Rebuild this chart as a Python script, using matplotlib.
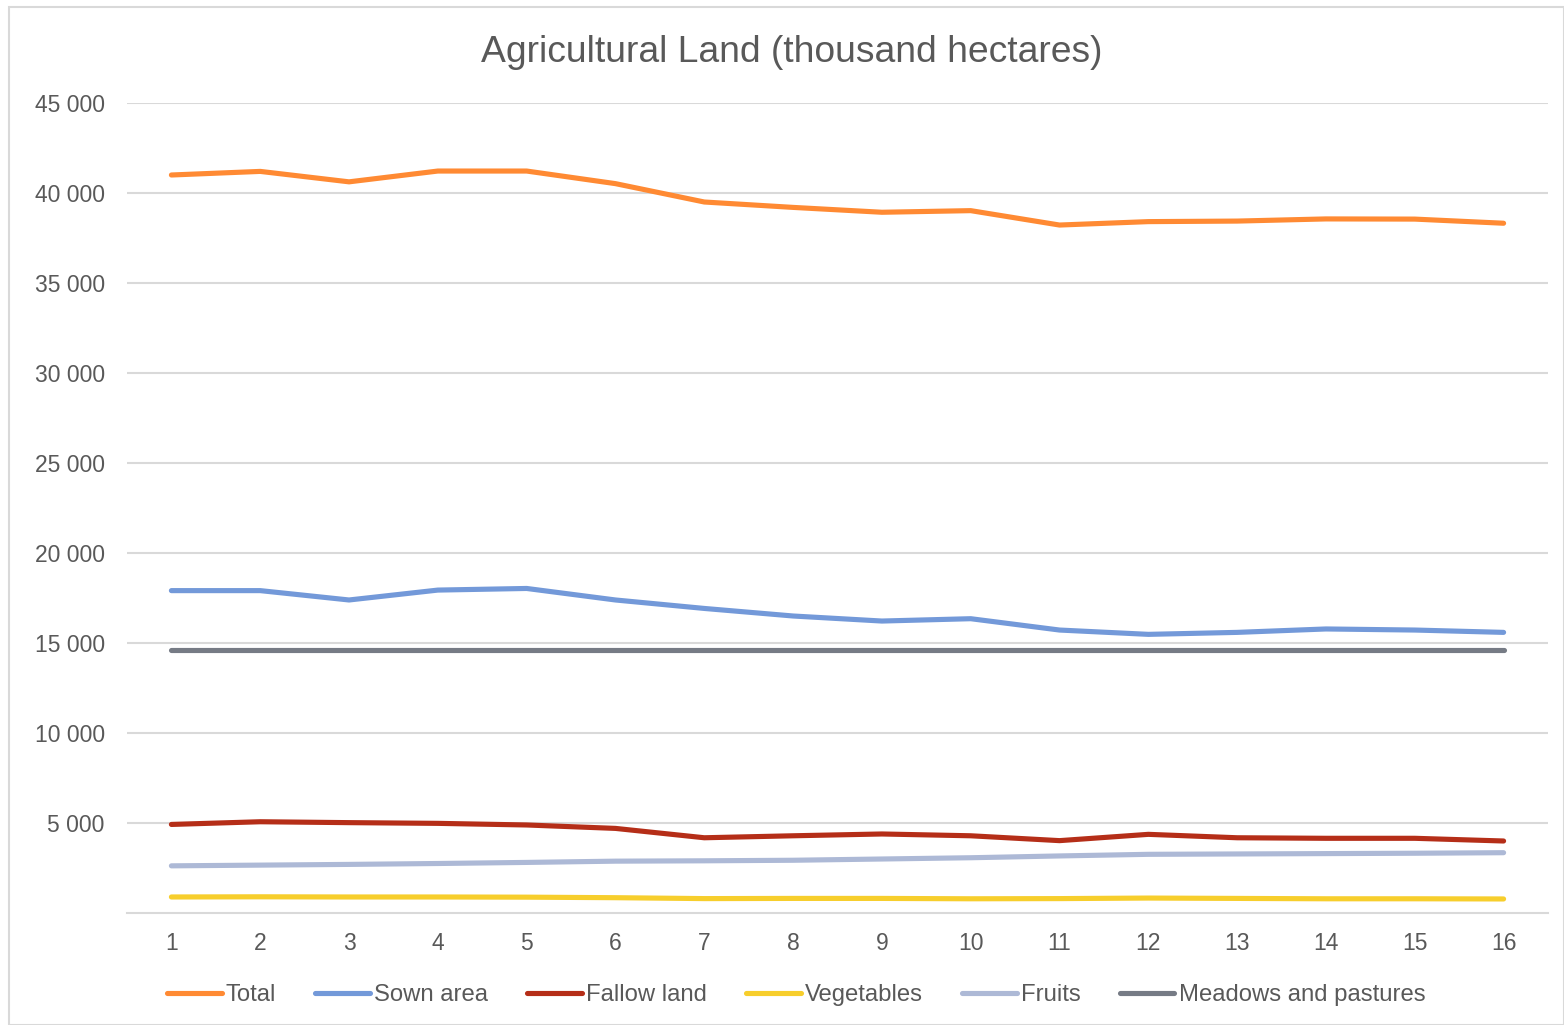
import matplotlib
matplotlib.use("Agg")
import matplotlib.pyplot as plt
from matplotlib.ticker import FuncFormatter
from matplotlib.patches import Rectangle

plt.rcParams['font.family'] = ['Liberation Sans', 'DejaVu Sans']

# agricultural land by year index, thousand hectares
years = list(range(1, 17))
total = [41000, 41200, 40620, 41220, 41220, 40520, 39500, 39200,
         38930, 39020, 38220, 38410, 38440, 38560, 38550, 38320]
sown_area = [17910, 17910, 17390, 17940, 18030, 17390, 16920, 16500,
             16220, 16350, 15720, 15480, 15590, 15780, 15720, 15590]
fallow_land = [4920, 5070, 5020, 4980, 4890, 4700, 4180, 4290,
               4390, 4290, 4020, 4370, 4180, 4150, 4150, 4000]
vegetables = [890, 900, 890, 890, 880, 850, 800, 810,
              810, 790, 800, 830, 810, 790, 790, 780]
fruits = [2620, 2660, 2700, 2750, 2810, 2880, 2900, 2930,
          3000, 3070, 3170, 3260, 3280, 3300, 3320, 3350]
meadows = [14600] * 16

series = [
    ("Total", total, "#FF8A33"),
    ("Sown area", sown_area, "#7399D9"),
    ("Fallow land", fallow_land, "#B52E18"),
    ("Vegetables", vegetables, "#F7CE2C"),
    ("Fruits", fruits, "#ADB9D6"),
    ("Meadows and pastures", meadows, "#767B85"),
]

W, H = 1564, 1025
fig = plt.figure(figsize=(W / 100, H / 100), dpi=100)
ax = fig.add_axes([127 / W, 1 - 913 / H, (1548 - 127) / W, (913 - 103) / H])

# chart frame
fig.patches.append(Rectangle((9 / W, 0), 1 - 9 / W, 1 - 7 / H, transform=fig.transFigure,
                             fill=False, edgecolor="#D9D9D9", linewidth=1.5))

# draw back to front so the order on top matches legend order reversed
for name, vals, col in reversed(series):
    ax.plot(years, vals, color=col, linewidth=3.7, solid_capstyle="round",
            solid_joinstyle="round", label=name)

ax.set_xlim(0.5, 16.5)
ax.set_ylim(0, 45000)
ax.set_xticks(years)
ax.set_yticks(range(5000, 45001, 5000))
ax.yaxis.set_major_formatter(FuncFormatter(lambda v, p: f"{int(v):,}".replace(",", " ")))
ax.grid(axis="y", color="#D9D9D9", linewidth=1.5)
ax.set_axisbelow(True)
for s in ["top", "left", "right"]:
    ax.spines[s].set_visible(False)
ax.spines["bottom"].set_color("#D9D9D9")
ax.spines["bottom"].set_linewidth(1.5)
ax.tick_params(axis="both", length=0, labelsize=16.5, colors="#595959")
ax.tick_params(axis="y", pad=16)
ax.tick_params(axis="x", pad=14)

fig.text(792 / W, 1 - 53 / H, "Agricultural Land (thousand hectares)",
         ha="center", va="center", fontsize=26.8, color="#595959")

handles, labels = ax.get_legend_handles_labels()
leg = fig.legend(handles[::-1], labels[::-1], loc="center", ncol=6,
                 bbox_to_anchor=(796 / W, 1 - 995 / H), frameon=False,
                 fontsize=17.2, handlelength=2.3, handletextpad=0.17,
                 columnspacing=1.63)
for t in leg.get_texts():
    t.set_color("#595959")

fig.savefig("out.png", dpi=100)
